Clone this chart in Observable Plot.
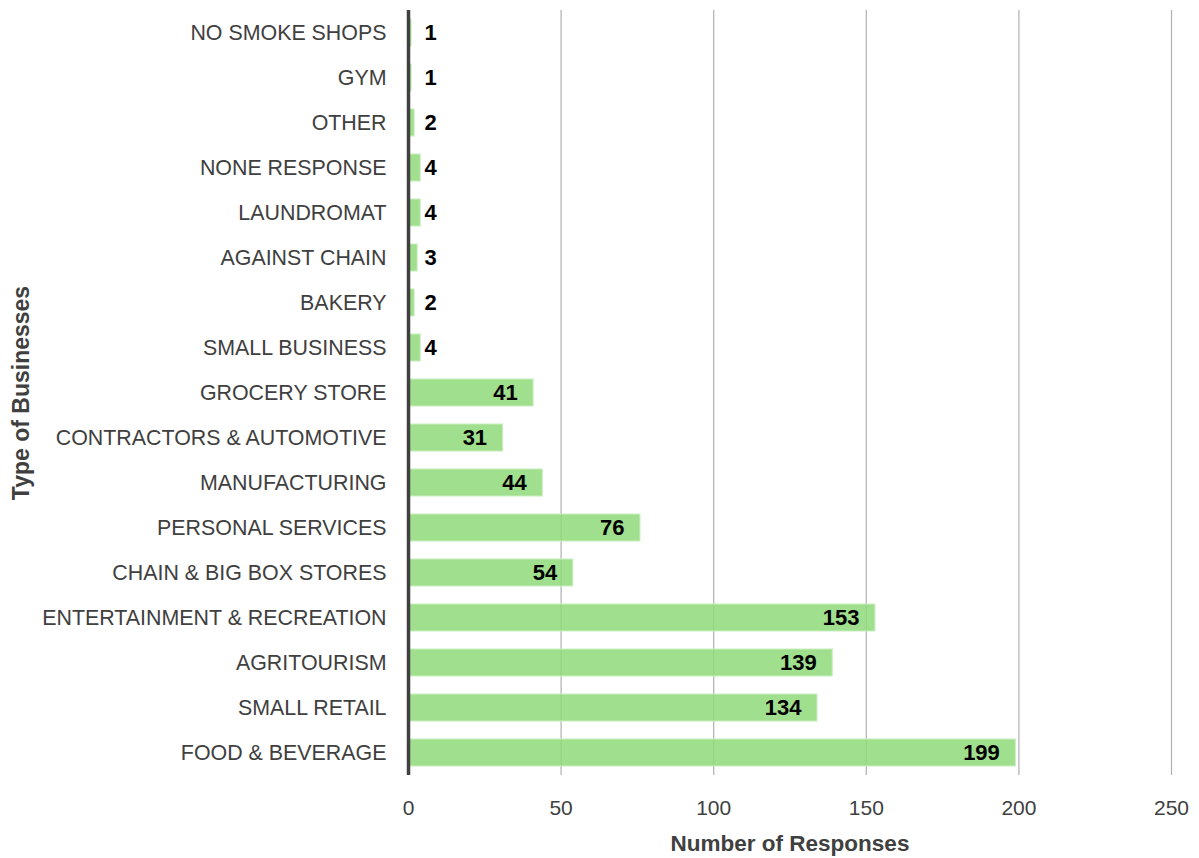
<!DOCTYPE html>
<html>
<head>
<meta charset="utf-8">
<script src="https://cdn.jsdelivr.net/npm/d3@7"></script>
<script src="https://cdn.jsdelivr.net/npm/@observablehq/plot@0.6"></script>
<style>
  body { margin: 0; background: #fff; }
  #chart svg { display: block; }
</style>
</head>
<body>
<div id="chart"></div>
<script>
const categories = [
  "NO SMOKE SHOPS", "GYM", "OTHER", "NONE RESPONSE", "LAUNDROMAT", "AGAINST CHAIN",
  "BAKERY", "SMALL BUSINESS", "GROCERY STORE", "CONTRACTORS & AUTOMOTIVE",
  "MANUFACTURING", "PERSONAL SERVICES", "CHAIN & BIG BOX STORES",
  "ENTERTAINMENT & RECREATION", "AGRITOURISM", "SMALL RETAIL", "FOOD & BEVERAGE"
];
const responses = [1, 1, 2, 4, 4, 3, 2, 4, 41, 31, 44, 76, 54, 153, 139, 134, 199];
const xTicks = [0, 50, 100, 150, 200, 250];

const data = categories.map((c, i) => ({category: c, value: responses[i]}));
const small = data.filter(d => d.value < 10);
const large = data.filter(d => d.value >= 10);

const font = "Liberation Sans, Arial, sans-serif";

const chart = Plot.plot({
  width: 1199,
  height: 858,
  marginLeft: 408,
  marginRight: 28,
  marginTop: 10,
  marginBottom: 83,
  style: {fontFamily: font, fontSize: "20px", color: "#404040", background: "#fff"},
  x: {domain: [0, 250], ticks: xTicks, label: null},
  y: {domain: categories, paddingInner: 0.4, paddingOuter: 0.2, label: null},
  marks: [
    Plot.ruleX(xTicks.filter(t => t > 0), {stroke: "#b0b0b0", strokeWidth: 1.2}),
    Plot.barX(data, {y: "category", x: "value", fill: "#8fd97a", fillOpacity: 0.85, stroke: "#c8eebd", strokeWidth: 1}),
    Plot.ruleX([0], {stroke: "#404040", strokeWidth: 3.5}),
    Plot.axisX({ticks: xTicks, tickSize: 0, tickPadding: 25, fontSize: 21, fill: "#404040", label: null}),
    Plot.axisY({tickSize: 0, tickPadding: 22, fontSize: 21.4, fill: "#404040", fontWeight: 300, label: null}),
    Plot.text(large, {y: "category", x: "value", text: d => String(d.value), textAnchor: "end", dx: -16, fontWeight: "bold", fontSize: 22, fill: "#000"}),
    Plot.text(small, {y: "category", x: () => 0, text: d => String(d.value), textAnchor: "start", dx: 16, fontWeight: "bold", fontSize: 22, fill: "#000"}),
    Plot.text(["Number of Responses"], {frameAnchor: "bottom", dy: 75, fontWeight: "bold", fontSize: 22.5, fill: "#404040"}),
    Plot.text(["Type of Businesses"], {frameAnchor: "left", textAnchor: "middle", dx: -387, dy: 0, rotate: -90, fontWeight: "bold", fontSize: 23, fill: "#404040"})
  ]
});
document.getElementById("chart").appendChild(chart);
</script>
</body>
</html>
